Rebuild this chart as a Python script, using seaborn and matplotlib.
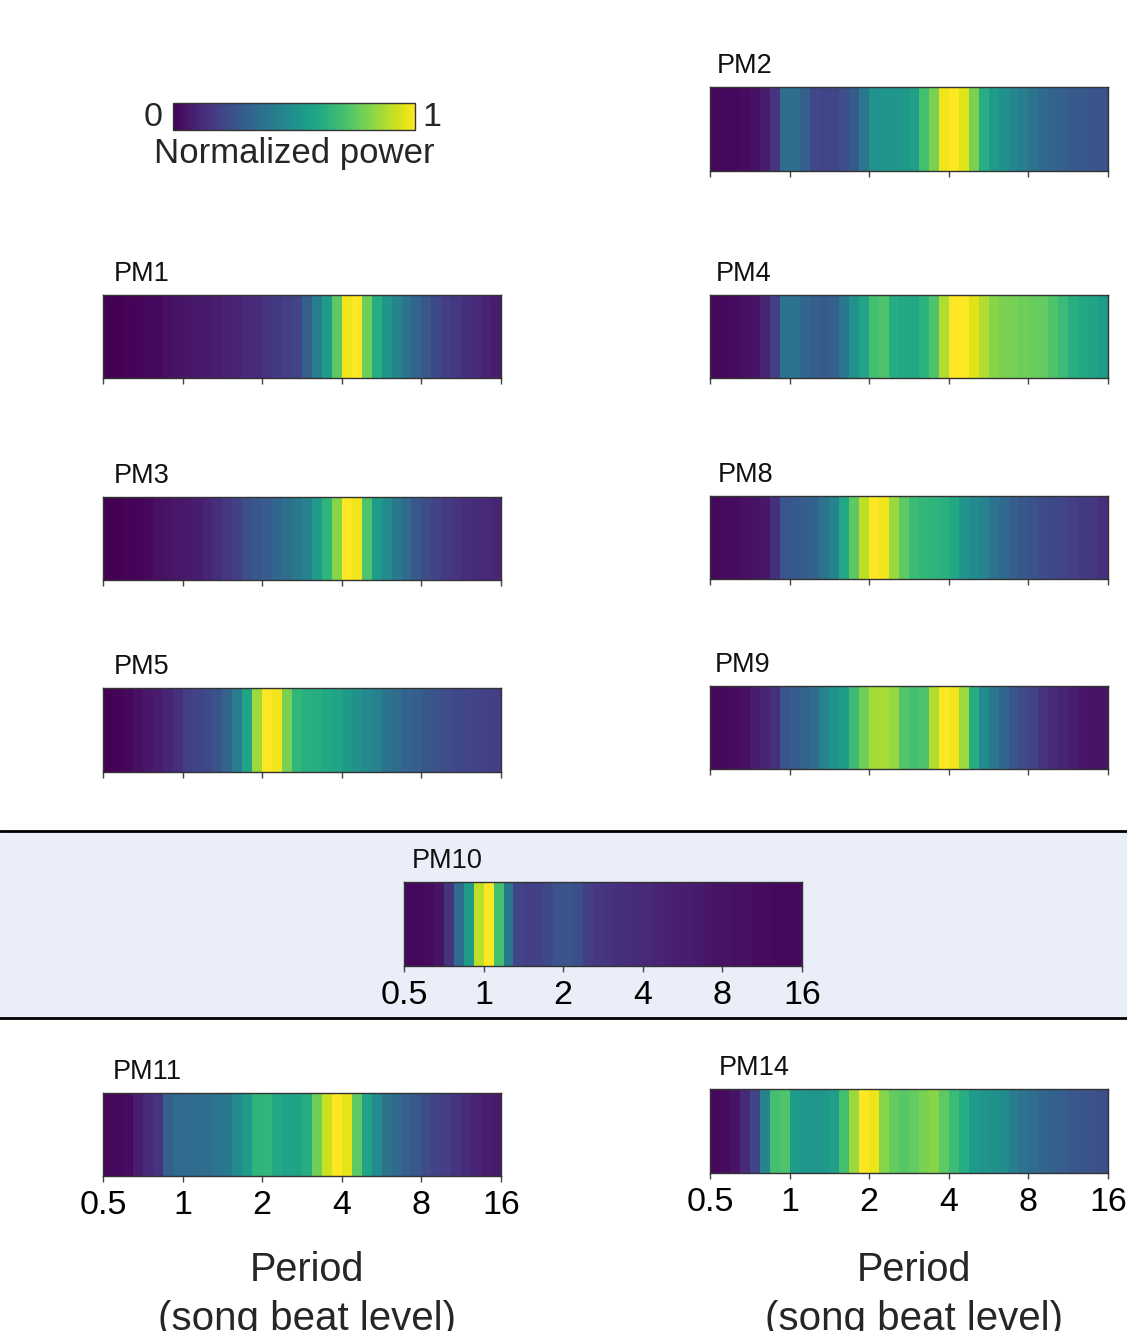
import numpy as np
import pandas as pd
import matplotlib
matplotlib.use("Agg")
import matplotlib.pyplot as plt
import seaborn as sns
from matplotlib.patches import Rectangle
from matplotlib.lines import Line2D

sns.set_style("white")
plt.rcParams['font.family'] = ['Liberation Sans', 'DejaVu Sans']

# ---------------- data: normalized power per 1/8-octave bin, period 0.5 .. 16 ----------------
tick_values = [0.5, 1, 2, 4, 8, 16]
tick_labels = ["0.5", "1", "2", "4", "8", "16"]
bins_per_octave = 8

pm1 = [0.0, 0.0, 0.01, 0.01, 0.02, 0.02, 0.04, 0.05, 0.06, 0.07, 0.07, 0.08, 0.09, 0.10, 0.11, 0.12,
       0.15, 0.17, 0.18, 0.20, 0.30, 0.42, 0.55, 0.75, 0.98, 1.0, 0.78, 0.62, 0.52, 0.45, 0.38, 0.32,
       0.27, 0.22, 0.18, 0.16, 0.14, 0.12, 0.10, 0.08]
pm2 = [0.02, 0.02, 0.02, 0.03, 0.04, 0.08, 0.15, 0.35, 0.36, 0.30, 0.22, 0.20, 0.21, 0.24, 0.28, 0.40,
       0.50, 0.52, 0.52, 0.53, 0.56, 0.70, 0.80, 0.98, 1.00, 0.95, 0.80, 0.62, 0.55, 0.50, 0.46, 0.42,
       0.38, 0.34, 0.32, 0.30, 0.28, 0.27, 0.26, 0.25]
pm3 = [0.0, 0.0, 0.01, 0.01, 0.02, 0.04, 0.05, 0.06, 0.07, 0.08, 0.10, 0.13, 0.16, 0.19, 0.24, 0.27,
       0.29, 0.33, 0.36, 0.40, 0.44, 0.55, 0.65, 0.82, 1.0, 0.98, 0.72, 0.55, 0.48, 0.40, 0.34, 0.27,
       0.23, 0.20, 0.17, 0.15, 0.13, 0.12, 0.11, 0.10]
pm4 = [0.02, 0.02, 0.03, 0.04, 0.05, 0.10, 0.18, 0.38, 0.38, 0.33, 0.30, 0.28, 0.30, 0.40, 0.50, 0.58,
       0.70, 0.72, 0.62, 0.60, 0.60, 0.64, 0.72, 0.88, 1.0, 1.0, 0.95, 0.88, 0.82, 0.80, 0.79, 0.78,
       0.77, 0.76, 0.72, 0.68, 0.63, 0.60, 0.58, 0.55]
pm5 = [0.0, 0.01, 0.02, 0.04, 0.06, 0.08, 0.10, 0.14, 0.18, 0.20, 0.22, 0.25, 0.32, 0.42, 0.58, 0.85,
       1.0, 0.98, 0.80, 0.66, 0.63, 0.62, 0.60, 0.58, 0.54, 0.50, 0.47, 0.44, 0.38, 0.35, 0.32, 0.30,
       0.27, 0.25, 0.23, 0.22, 0.21, 0.20, 0.19, 0.18]
pm8 = [0.02, 0.03, 0.03, 0.04, 0.05, 0.06, 0.14, 0.26, 0.28, 0.29, 0.31, 0.38, 0.44, 0.60, 0.75, 0.90,
       1.0, 0.98, 0.85, 0.75, 0.68, 0.66, 0.65, 0.64, 0.60, 0.52, 0.48, 0.44, 0.38, 0.34, 0.30, 0.27,
       0.25, 0.23, 0.22, 0.20, 0.18, 0.17, 0.16, 0.14]
pm9 = [0.02, 0.02, 0.03, 0.04, 0.08, 0.10, 0.14, 0.26, 0.29, 0.32, 0.35, 0.45, 0.50, 0.55, 0.68, 0.78,
       0.86, 0.87, 0.84, 0.73, 0.70, 0.72, 0.88, 1.0, 0.98, 0.85, 0.62, 0.48, 0.40, 0.33, 0.26, 0.23,
       0.20, 0.15, 0.12, 0.10, 0.08, 0.06, 0.05, 0.05]
pm10 = [0.02, 0.02, 0.03, 0.05, 0.15, 0.35, 0.55, 0.90, 1.0, 0.70, 0.40, 0.20, 0.18, 0.19, 0.22, 0.25,
        0.26, 0.24, 0.18, 0.16, 0.15, 0.14, 0.13, 0.12, 0.11, 0.10, 0.09, 0.08, 0.08, 0.07, 0.06, 0.05,
        0.05, 0.04, 0.04, 0.03, 0.03, 0.02, 0.02, 0.02]
pm11 = [0.02, 0.02, 0.03, 0.08, 0.12, 0.15, 0.30, 0.34, 0.35, 0.35, 0.36, 0.38, 0.40, 0.48, 0.55, 0.65,
        0.66, 0.60, 0.58, 0.58, 0.62, 0.78, 0.92, 1.0, 0.96, 0.75, 0.58, 0.48, 0.38, 0.34, 0.30, 0.27,
        0.23, 0.20, 0.18, 0.15, 0.12, 0.10, 0.08, 0.07]
pm14 = [0.02, 0.03, 0.05, 0.12, 0.20, 0.45, 0.70, 0.72, 0.55, 0.53, 0.52, 0.53, 0.56, 0.70, 0.85, 1.0,
        0.97, 0.82, 0.76, 0.74, 0.76, 0.80, 0.82, 0.75, 0.68, 0.62, 0.55, 0.52, 0.50, 0.48, 0.42, 0.38,
        0.35, 0.33, 0.31, 0.29, 0.27, 0.26, 0.25, 0.24]

names = ["PM2", "PM1", "PM4", "PM3", "PM8", "PM5", "PM9", "PM10", "PM11", "PM14"]
series = [pm2, pm1, pm4, pm3, pm8, pm5, pm9, pm10, pm11, pm14]

# ---------------- layout ----------------
W, H = 1127, 1331
fig = plt.figure(figsize=(W / 100, H / 100), dpi=100)

def fx(px):
    return px / W

def fy(py_top, py_bot):
    return 1 - py_bot / H, (py_bot - py_top) / H

# (left px, top px, bottom px, show tick labels, title x offset px)
boxes = {
    "PM2": (710, 87, 171, False, 7),
    "PM1": (103, 295, 378, False, 11),
    "PM4": (710, 295, 378, False, 6),
    "PM3": (103, 497, 580, False, 11),
    "PM8": (710, 496, 579, False, 8),
    "PM5": (103, 688, 772, False, 11),
    "PM9": (710, 686, 769, False, 5),
    "PM10": (404, 882, 966, True, 8),
    "PM11": (103, 1093, 1176, True, 10),
    "PM14": (710, 1089, 1173, True, 9),
}
AX_W = 398

# shaded band behind PM10
band_top, band_bot = 831, 1018
fig.patches.append(Rectangle((0, 1 - band_bot / H), 1, (band_bot - band_top) / H,
                             transform=fig.transFigure, facecolor="#eaeef9",
                             edgecolor="none", zorder=-10))
for yy in (band_top, band_bot):
    fig.lines.append(Line2D([0, 1], [1 - yy / H, 1 - yy / H], transform=fig.transFigure,
                            color="black", lw=2))

n_bins = len(pm1)
tick_pos = [(np.log2(v) - np.log2(tick_values[0])) * bins_per_octave for v in tick_values]

mappable = None
for name, vals in zip(names, series):
    left, top, bot, show_lab, toff = boxes[name]
    b, h = fy(top, bot)
    ax = fig.add_axes([fx(left), b, fx(AX_W), h])
    df = pd.DataFrame([vals], columns=range(n_bins))
    sns.heatmap(df, ax=ax, cmap="viridis", vmin=0, vmax=1, cbar=False,
                xticklabels=False, yticklabels=False)
    mappable = ax.collections[0]
    for s in ax.spines.values():
        s.set_visible(True)
        s.set_color("#333333")
        s.set_linewidth(1.0)
    ax.set_xticks(tick_pos)
    ax.set_xticklabels(tick_labels if show_lab else [""] * len(tick_labels))
    ax.tick_params(axis="x", bottom=True, length=4, width=1, color="#444444",
                   labelsize=24.5, pad=6, labelcolor="black")
    ax.tick_params(axis="y", left=False)
    ax.set_xlabel("")
    ax.set_ylabel("")
    ax.text(toff / AX_W, 1 + 14 / (bot - top), name, transform=ax.transAxes,
            ha="left", va="baseline", fontsize=19.5, color="#111111")

# colorbar
cax = fig.add_axes([fx(173), 1 - 130 / H, fx(242), 27 / H])
cb = fig.colorbar(mappable, cax=cax, orientation="horizontal")
cb.set_ticks([])
cb.outline.set_edgecolor("#333333")
cb.outline.set_linewidth(1.0)
fig.text(fx(153), 1 - 118 / H, "0", ha="center", va="center", fontsize=24.5)
fig.text(fx(432), 1 - 118 / H, "1", ha="center", va="center", fontsize=24.5)
fig.text(fx(294), 1 - 153 / H, "Normalized power", ha="center", va="center", fontsize=25)

# x-axis labels for bottom row
for cx in (307, 914):
    fig.text(fx(cx), 1 - 1281 / H, "Period", ha="center", va="baseline", fontsize=28.5)
    fig.text(fx(cx), 1 - 1330 / H, "(song beat level)", ha="center", va="baseline", fontsize=29)

fig.savefig("out.png", dpi=100)
